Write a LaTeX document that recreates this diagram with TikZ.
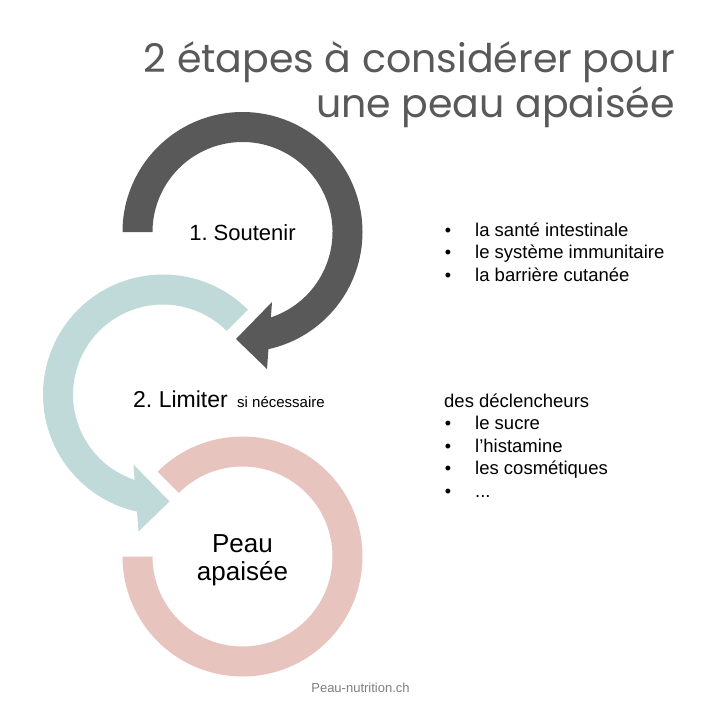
\documentclass[tikz,border=0pt]{standalone}
\usepackage{fontspec}
\setmainfont{Liberation Sans}
\newfontfamily\titlefont{Poppins}
\usetikzlibrary{calc}
\definecolor{darkg}{HTML}{595959}
\definecolor{tealc}{HTML}{BFDAD8}
\definecolor{pinkc}{HTML}{E8C4BE}
\definecolor{footg}{HTML}{7F7F7F}
\frenchspacing
\begin{document}
\begin{tikzpicture}[x=1pt,y=-1pt,
  titletext/.style={inner sep=0pt,anchor=base east,text=darkg,font=\titlefont\fontsize{39.5}{44}\selectfont},
  steptext/.style={inner sep=0pt,anchor=base,font=\fontsize{22}{25}\selectfont},
  listtext/.style={inner sep=0pt,anchor=base west,font=\fontsize{18.5}{21}\selectfont},
  bullettext/.style={inner sep=0pt,anchor=base,font=\fontsize{18}{21}\selectfont},
  goaltext/.style={inner sep=0pt,anchor=base,font=\fontsize{26}{28}\selectfont},
  foottext/.style={inner sep=0pt,anchor=base,text=footg,font=\fontsize{13}{15}\selectfont}]
\path[use as bounding box] (0,0) rectangle (722,720);
\fill[white] (0,0) rectangle (722,720);
\coordinate (c1) at (242.5,232);
\coordinate (c2) at (163,394.5);
\coordinate (c3) at (242.5,556.5);
% pink ring
\fill[pinkc] ($(c3)+(-135:120)$) arc[start angle=-135,end angle=180,radius=120]
  -- ($(c3)+(180:90)$) arc[start angle=180,end angle=-135,radius=90] -- cycle;
% teal arrow
\fill[tealc] ($(c2)+(-45:120)$) arc[start angle=-45,end angle=-257.5,radius=120]
  -- (138.5,531.5) -- (169.5,501.5) -- (133.5,464.5)
  -- ($(c2)+(-251.6:90)$) arc[start angle=-251.6,end angle=-45,radius=90] -- cycle;
% dark arrow
\fill[darkg] ($(c1)+(180:120)$) arc[start angle=180,end angle=437.5,radius=120]
  -- (267,369) -- (236,339) -- (272,302)
  -- ($(c1)+(431.6:90)$) arc[start angle=431.6,end angle=180,radius=90] -- cycle;
% title
\node[titletext] (t1) at (675,72) {2 étapes à considérer pour};
\node[titletext] (t2) at (675,117) {une peau apaisée};
% steps
\node[steptext] (s1) at (242.5,240) {1. Soutenir};
\node[steptext,anchor=base west,font=\fontsize{23}{25}\selectfont] (s2) at (133,407) {2. Limiter};
\node[inner sep=0pt,anchor=base west,font=\fontsize{15}{17}\selectfont] (s2b) at (237,407) {si nécessaire};
\node[goaltext] (g1) at (242.5,552) {Peau};
\node[goaltext] (g2) at (242.5,580) {apaisée};
% list 1
\node[bullettext] (b1) at (448,236) {•};
\node[listtext] (l1) at (475,236) {la santé intestinale};
\node[bullettext] (b2) at (448,258.5) {•};
\node[listtext] (l2) at (475,258.5) {le système immunitaire};
\node[bullettext] (b3) at (448,281) {•};
\node[listtext] (l3) at (475,281) {la barrière cutanée};
% list 2
\node[listtext] (h2) at (444,407) {des déclencheurs};
\node[bullettext] (b4) at (448,429.5) {•};
\node[listtext] (l4) at (475,429.5) {le sucre};
\node[bullettext] (b5) at (448,452) {•};
\node[listtext] (l5) at (475,452) {l’histamine};
\node[bullettext] (b6) at (448,474.5) {•};
\node[listtext] (l6) at (475,474.5) {les cosmétiques};
\node[bullettext] (b7) at (448,497) {•};
\node[listtext] (l7) at (475,497) {...};
% footer
\node[foottext] (f) at (360.5,692) {Peau-nutrition.ch};
\end{tikzpicture}
\end{document}
